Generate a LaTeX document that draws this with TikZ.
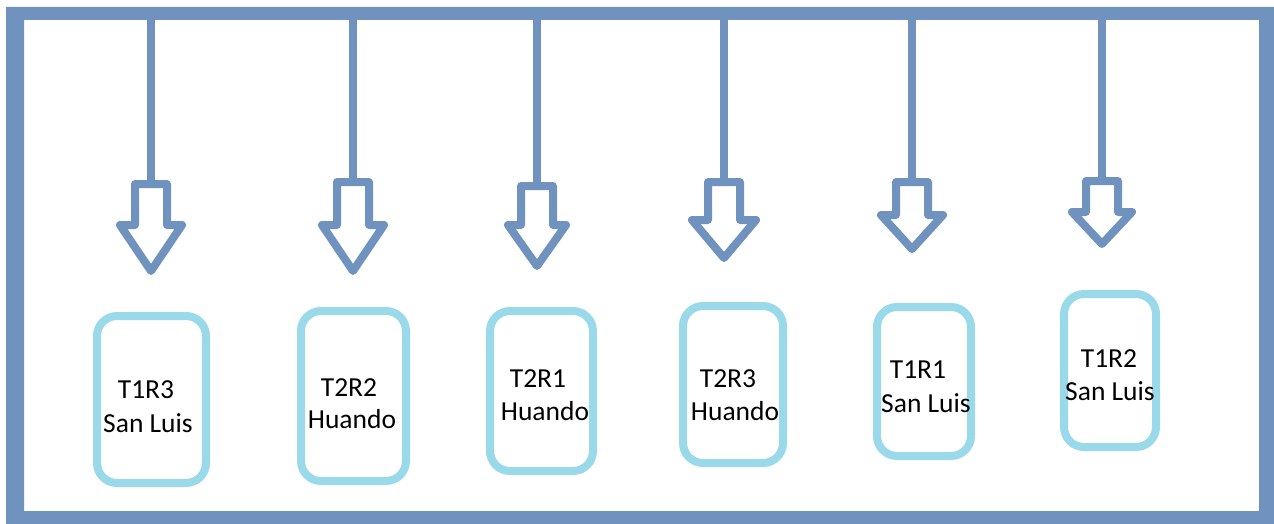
\documentclass[tikz,border=0pt]{standalone}
\usepackage{fontspec}
\setmainfont{Carlito}
\definecolor{frameblue}{HTML}{7092BE}
\definecolor{boxblue}{HTML}{99D9EA}
\tikzset{
  arrowline/.style={draw=frameblue, line width=8pt, line join=round, fill=white},
  stemline/.style={draw=frameblue, line width=8pt},
  sitebox/.style={draw=boxblue, line width=8pt, rounded corners=20pt, inner sep=0pt},
  lbl/.style={anchor=base, inner sep=0pt, font=\fontsize{27.5}{33}\selectfont, text=black}
}
\newcommand\blockarrow[6]{%
  % #1 name, #2 centre x, #3 top, #4 shoulder, #5 tip, #6 head half width
  \coordinate (#1-in) at (#2,20);
  \coordinate (#1-top) at (#2,#3);
  \draw[stemline] (#1-in) -- (#1-top);
  \draw[arrowline] ({#2-16},#3) -- ({#2+16},#3) -- ({#2+16},#4) -- ({#2+#6},#4)
     -- (#2,#5) -- ({#2-#6},#4) -- ({#2-16},#4) -- cycle;
}
\begin{document}
\begin{tikzpicture}[x=1pt,y=-1pt]
\useasboundingbox (0,0) rectangle (1274,524);
\fill[white] (0,0) rectangle (1274,524);
\fill[frameblue, even odd rule] (6,7) rectangle (1274,524) (24,20) rectangle (1259,511);

\blockarrow{a1}{151}{184}{225}{271}{31}
\blockarrow{a2}{353}{182}{225}{271}{31}
\blockarrow{a3}{537}{186}{225}{266}{29}
\blockarrow{a4}{724}{182}{220}{258}{32}
\blockarrow{a5}{912}{182}{215}{249}{31}
\blockarrow{a6}{1102}{181}{212}{244}{30}

\node[sitebox, minimum width=109pt, minimum height=167pt] (b1) at (151.5,399.5) {};
\node[sitebox, minimum width=105pt, minimum height=170pt] (b2) at (353.5,396) {};
\node[sitebox, minimum width=103pt, minimum height=160pt] (b3) at (541.5,391) {};
\node[sitebox, minimum width=100pt, minimum height=157pt] (b4) at (733,384.5) {};
\node[sitebox, minimum width=94pt, minimum height=149pt] (b5) at (924,381.5) {};
\node[sitebox, minimum width=92pt, minimum height=153pt] (b6) at (1110,370.5) {};

\node[lbl] (t1a) at (146,398) {T1R3};
\node[lbl] (t1b) at (148,432) {San Luis};
\node[lbl] (t2a) at (349,396) {T2R2};
\node[lbl] (t2b) at (352,428) {Huando};
\node[lbl] (t3a) at (538,387) {T2R1};
\node[lbl] (t3b) at (545,420) {Huando};
\node[lbl] (t4a) at (728,387) {T2R3};
\node[lbl] (t4b) at (735,420) {Huando};
\node[lbl] (t5a) at (918,378) {T1R1};
\node[lbl] (t5b) at (926,412) {San Luis};
\node[lbl] (t6a) at (1109,367) {T1R2};
\node[lbl] (t6b) at (1110,400) {San Luis};
\end{tikzpicture}
\end{document}
